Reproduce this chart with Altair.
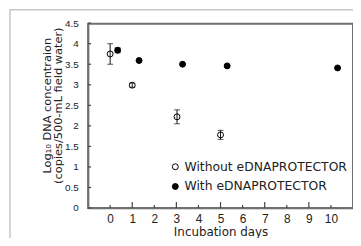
import altair as alt
import pandas as pd

# Data
series_names = ["Without eDNAPROTECTOR", "With eDNAPROTECTOR"]
without_days = [0.0, 1.0, 3.03, 5.0]
without_vals = [3.75, 2.99, 2.22, 1.78]
without_err = [0.25, 0.05, 0.17, 0.11]
with_days = [0.34, 1.31, 3.28, 5.3, 10.3]
with_vals = [3.84, 3.59, 3.50, 3.46, 3.41]
with_err = [0.06, 0.0, 0.0, 0.0, 0.0]
x_ticks = [0, 1, 2, 3, 4, 5, 6, 7, 8, 9, 10]
y_ticks = [0, 0.5, 1, 1.5, 2, 2.5, 3, 3.5, 4, 4.5]

rows = []
for d, v, e in zip(without_days, without_vals, without_err):
    rows.append({"day": d, "val": v, "err": e, "series": series_names[0]})
for d, v, e in zip(with_days, with_vals, with_err):
    rows.append({"day": d, "val": v, "err": e, "series": series_names[1]})
df = pd.DataFrame(rows)
df["lo"] = df["val"] - df["err"]
df["hi"] = df["val"] + df["err"]
df_err = df[df["err"] > 0]

xticks_even = pd.DataFrame({"t": [t for t in x_ticks if t % 2 == 0]})
xticks_odd = pd.DataFrame({"t": [t for t in x_ticks if t % 2 == 1]})
yticks_df = pd.DataFrame({"t": y_ticks})
one = pd.DataFrame({"a": [1]})

W, H = 268, 187
xs = alt.Scale(domain=[-1, 11], nice=False)
ys = alt.Scale(domain=[0, 4.5], nice=False)

xaxis = alt.Axis(values=x_ticks, ticks=False, grid=False, labelFont="Liberation Sans",
                 labelFontSize=12, labelColor="#222", labelPadding=6, labelOverlap=False,
                 title="Incubation days", titleFont="DejaVu Sans", titleFontSize=12,
                 titleFontWeight="normal", titleColor="#222", titleY=24, titleBaseline="middle",
                 domainColor="#666", domainWidth=1.5, labelFlush=False)
yaxis = alt.Axis(values=y_ticks, ticks=False, grid=False, format=".1~f", labelOverlap=False,
                 labelFont="Liberation Sans", labelFontSize=10, labelColor="#222",
                 labelPadding=10, title=["Log₁₀ DNA concentraion", "(copies/500-mL field water)"],
                 titleFont="DejaVu Sans", titleFontSize=11.5, titleFontWeight="normal",
                 titleColor="#222", titleLineHeight=12, titleX=-41.5, titleY=83,
                 titleBaseline="middle", titleAlign="center", titleAngle=270,
                 domainColor="#666", domainWidth=1.5, labelFlush=False)


def X(field):
    return alt.X(field, scale=xs, axis=xaxis)


def Y(field):
    return alt.Y(field, scale=ys, axis=yaxis)


frame = alt.Chart(one).mark_rect(filled=False, stroke="#707070", strokeWidth=2,
                                 clip=False).encode(
    x=alt.value(0), x2=alt.value(W), y=alt.value(0.5), y2=alt.value(H))

err_rule = alt.Chart(df_err).mark_rule(color="#111", strokeWidth=1).encode(
    x=X("day:Q"), y=Y("lo:Q"), y2="hi:Q")
cap_lo = alt.Chart(df_err).mark_tick(color="#111", orient="horizontal", size=6, thickness=1).encode(
    x=X("day:Q"), y=Y("lo:Q"))
cap_hi = alt.Chart(df_err).mark_tick(color="#111", orient="horizontal", size=6, thickness=1).encode(
    x=X("day:Q"), y=Y("hi:Q"))

points = alt.Chart(df).mark_point(shape="circle", filled=True, stroke="black", strokeWidth=1,
                                  size=36, opacity=1).encode(
    x=X("day:Q"),
    y=Y("val:Q"),
    fill=alt.Fill("series:N",
                  scale=alt.Scale(domain=series_names, range=["transparent", "black"]),
                  legend=alt.Legend(title=None, orient="none", legendX=82, legendY=139,
                                    labelFont="DejaVu Sans", labelFontSize=12.5,
                                    labelColor="#222", symbolType="circle", symbolSize=36,
                                    symbolStrokeColor="black", symbolStrokeWidth=1,
                                    labelOffset=3, rowPadding=7, padding=0, labelLimit=400)),
)

tick_even = alt.Chart(xticks_even).mark_rule(color="#444", strokeWidth=1.2).encode(
    x=X("t:Q"), y=alt.value(H), y2=alt.value(H - 3))
tick_odd = alt.Chart(xticks_odd).mark_rule(color="#444", strokeWidth=1.2).encode(
    x=X("t:Q"), y=alt.value(H), y2=alt.value(H - 6))
tick_y = alt.Chart(yticks_df).mark_rule(color="#444", strokeWidth=1.2).encode(
    y=Y("t:Q"), x=alt.value(0), x2=alt.value(3))

border_top = alt.Chart(one).mark_rule(color="#c8c8c8", strokeWidth=1.5, clip=False).encode(
    x=alt.value(-79), x2=alt.value(290), y=alt.value(-13.5))
border_left = alt.Chart(one).mark_rule(color="#c8c8c8", strokeWidth=1.5, clip=False).encode(
    x=alt.value(-79), y=alt.value(-14), y2=alt.value(240))

chart = alt.layer(border_top, border_left, frame, tick_even, tick_odd, tick_y,
                  err_rule, cap_lo, cap_hi, points).properties(
    width=W, height=H,
    background="white",
    autosize=alt.AutoSizeParams(type="none"),
    padding={"left": 81, "top": 14, "right": 0, "bottom": 29},
).configure_view(stroke=None)

chart.save("out.html", embed_options={"renderer": "svg", "actions": False})
